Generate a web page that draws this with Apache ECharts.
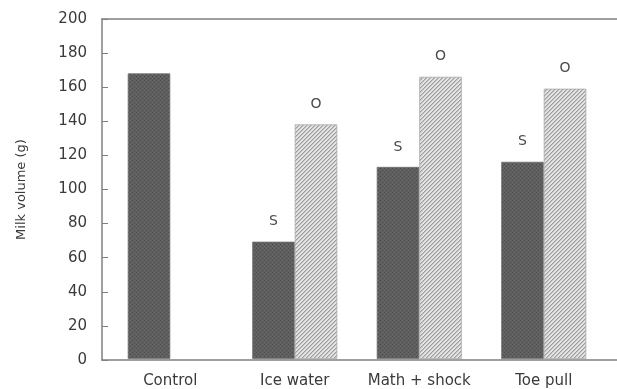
<!DOCTYPE html>
<html>
<head>
<meta charset="utf-8">
<script src="https://cdn.jsdelivr.net/npm/echarts@6/dist/echarts.min.js"></script>
<style>html,body{margin:0;padding:0;background:#fff}#c{width:617px;height:389px}</style>
</head>
<body>
<div id="c"></div>
<script>
var categories = ['Control', 'Ice water', 'Math + shock', 'Toe pull'];
var darkValues = [168, 69, 113, 116];
var hatchedValues = [null, 138, 166, 159];
var darkMarks = ['', 'S', 'S', 'S'];
var hatchedMarks = ['', 'O', 'O', 'O'];
var yTicks = [0, 20, 40, 60, 80, 100, 120, 140, 160, 180, 200];

function makeDark() {
  var c = document.createElement('canvas'); c.width = 4; c.height = 4;
  var g = c.getContext('2d');
  g.fillStyle = '#5f5f5f'; g.fillRect(0, 0, 4, 4);
  g.fillStyle = '#4c4c4c'; g.fillRect(0, 0, 1, 1); g.fillRect(2, 2, 1, 1);
  g.fillStyle = '#6a6a6a'; g.fillRect(2, 0, 1, 1); g.fillRect(0, 2, 1, 1);
  return c;
}
function makeHatch() {
  var c = document.createElement('canvas'); c.width = 4; c.height = 4;
  var g = c.getContext('2d');
  g.fillStyle = '#e4e4e4'; g.fillRect(0, 0, 4, 4);
  g.fillStyle = '#9e9e9e';
  for (var i = 0; i < 4; i++) { g.fillRect(i, 3 - i, 1, 1); }
  g.fillStyle = '#c0c0c0';
  for (var j = 0; j < 4; j++) { g.fillRect(j, (4 - j) % 4, 1, 1); }
  return c;
}

var chart = echarts.init(document.getElementById('c'), null, {renderer: 'canvas'});
var txt = '#3a3a3a';
var axisCol = '#808080';
var font = 'DejaVu Sans';

chart.setOption({
  animation: false,
  backgroundColor: '#fff',
  grid: [
    {left: 102, right: 0, top: 19, bottom: 29},
    {left: 108, width: 498, top: 19, bottom: 29}
  ],
  xAxis: [
    {gridIndex: 0, type: 'value', min: 0, max: 1, position: 'bottom',
     axisLine: {show: true, lineStyle: {color: axisCol, width: 1.5}},
     axisTick: {show: false}, axisLabel: {show: false}, splitLine: {show: false}},
    {gridIndex: 0, type: 'value', min: 0, max: 1, position: 'top',
     axisLine: {show: true, lineStyle: {color: axisCol, width: 1.5}},
     axisTick: {show: false}, axisLabel: {show: false}, splitLine: {show: false}},
    {gridIndex: 1, type: 'category', data: categories,
     axisLine: {show: false}, axisTick: {show: false},
     axisLabel: {interval: 0, color: txt, fontSize: 15, fontFamily: font, margin: 15}}
  ],
  yAxis: [
    {gridIndex: 0, type: 'value', min: 0, max: 200, interval: 20,
     axisLine: {show: true, lineStyle: {color: axisCol, width: 1.5}},
     axisTick: {show: true, inside: true, length: 6, lineStyle: {color: axisCol}},
     axisLabel: {color: txt, fontSize: 15, fontFamily: font, margin: 15,
       formatter: function (v) { return yTicks.indexOf(v) >= 0 ? String(v) : ''; }},
     splitLine: {show: false},
     name: 'Milk volume (g)', nameLocation: 'middle', nameGap: 74,
     nameTextStyle: {color: txt, fontSize: 13, fontFamily: font}},
    {gridIndex: 1, type: 'value', min: 0, max: 200, show: false}
  ],
  series: [
    {type: 'bar', xAxisIndex: 2, yAxisIndex: 1, data: darkValues,
     barWidth: 42.5, barGap: '0%',
     itemStyle: {color: {image: makeDark(), repeat: 'repeat'}, borderColor: '#6e6e6e', borderWidth: 0.8},
     label: {show: true, position: 'top', distance: 13, color: '#4a4a4a', fontSize: 14, fontFamily: font,
       formatter: function (p) { return darkMarks[p.dataIndex]; }}},
    {type: 'bar', xAxisIndex: 2, yAxisIndex: 1, data: hatchedValues,
     barWidth: 42.5, barGap: '0%',
     itemStyle: {color: {image: makeHatch(), repeat: 'repeat'}, borderColor: '#a8a8a8', borderWidth: 0.8},
     label: {show: true, position: 'top', distance: 13, color: '#4a4a4a', fontSize: 14, fontFamily: font,
       formatter: function (p) { return hatchedMarks[p.dataIndex]; }}}
  ]
});
</script>
</body>
</html>
